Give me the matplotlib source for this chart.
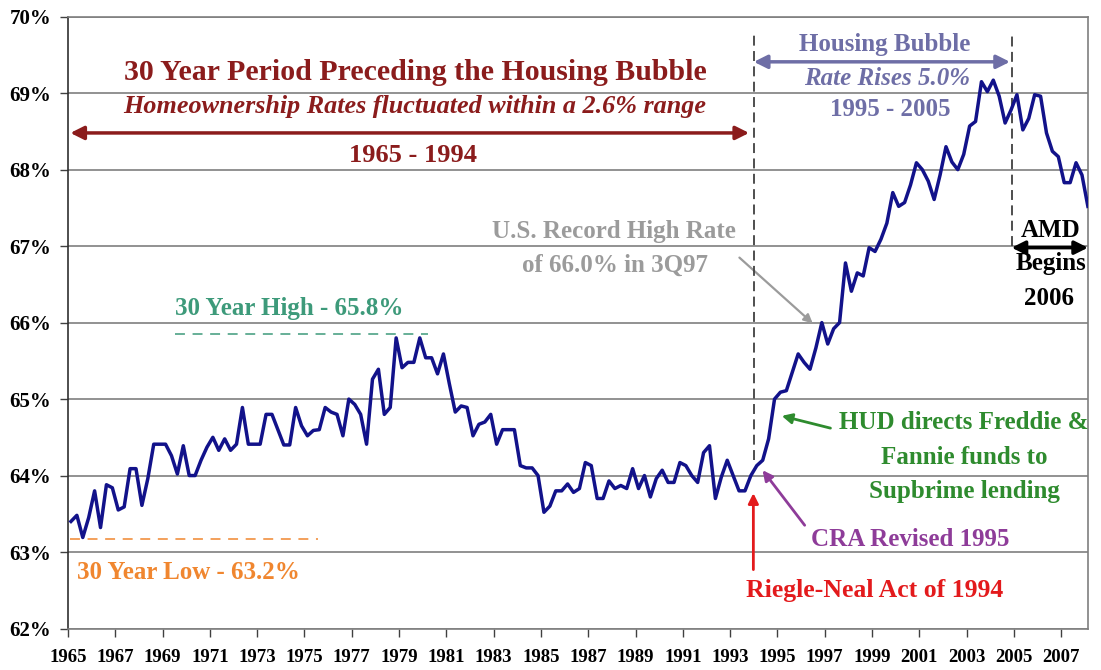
import numpy as np
import matplotlib
matplotlib.use('Agg')
import matplotlib.pyplot as plt

plt.rcParams['font.family'] = ['Liberation Serif', 'DejaVu Serif']

# US homeownership rate (%), quarterly from 1965 Q1
rate = [63.40, 63.48, 63.19, 63.45, 63.80, 63.32, 63.88, 63.84, 63.55, 63.59,
        64.09, 64.09, 63.61, 63.96, 64.41, 64.41, 64.41, 64.26, 64.02, 64.39,
        64.00, 64.00, 64.20, 64.37, 64.50, 64.33, 64.48, 64.33, 64.41, 64.89,
        64.41, 64.41, 64.41, 64.80, 64.80, 64.60, 64.40, 64.40, 64.89, 64.65,
        64.52, 64.59, 64.60, 64.89, 64.83, 64.80, 64.52, 65.00, 64.93, 64.80,
        64.41, 65.26, 65.39, 64.80, 64.89, 65.80, 65.41, 65.48, 65.48, 65.80,
        65.54, 65.54, 65.33, 65.59, 65.20, 64.83, 64.91, 64.89, 64.52, 64.67,
        64.70, 64.80, 64.41, 64.60, 64.60, 64.60, 64.13, 64.10, 64.10, 64.00,
        63.52, 63.60, 63.80, 63.80, 63.89, 63.78, 63.83, 64.17, 64.13, 63.70,
        63.70, 63.93, 63.83, 63.87, 63.83, 64.09, 63.83, 64.00, 63.72, 63.96,
        64.07, 63.91, 63.91, 64.17, 64.13, 64.00, 63.91, 64.30, 64.39, 63.70,
        63.98, 64.20, 64.00, 63.80, 63.80, 64.00, 64.13, 64.20, 64.48, 65.00,
        65.09, 65.11, 65.35, 65.59, 65.48, 65.39, 65.67, 66.00, 65.72, 65.92,
        66.00, 66.78, 66.41, 66.65, 66.61, 66.98, 66.93, 67.09, 67.30, 67.70,
        67.52, 67.57, 67.80, 68.09, 68.00, 67.85, 67.61, 67.93, 68.30, 68.10,
        68.00, 68.20, 68.57, 68.63, 69.15, 69.02, 69.17, 68.96, 68.61, 68.78,
        68.98, 68.52, 68.67, 68.98, 68.96, 68.48, 68.24, 68.17, 67.83, 67.83,
        68.09, 67.93, 67.52]

xtick_years = list(range(1965, 2008, 2))
ytick_vals = [62, 63, 64, 65, 66, 67, 68, 69, 70]
ytick_labels = ['%d%%' % v for v in ytick_vals]

# reference levels and events
low_30 = 63.17
high_30 = 65.85
bubble_start = 1994.0
bubble_end = 2004.92

# colours
navy = '#12128a'
dred = '#8b1c1c'
slate = '#6e6ea6'
grey_txt = '#9b9b9b'
green = '#2e8b2e'
purple = '#8e3c99'
red = '#e31a1c'
teal = '#3d9a7a'
orange = '#f0862f'

years = 1965 + (np.arange(len(rate)) + 0.5) / 4

fig = plt.figure(figsize=(11.01, 6.70), dpi=100)
ax = fig.add_axes([68 / 1101, 41.5 / 670, 1020 / 1101, 611.8 / 670])

ax.plot(years, rate, color=navy, lw=2.5, zorder=5)

ax.set_xlim(1965, 2008.13)
ax.set_ylim(62, 70)
ax.set_xticks(xtick_years)
ax.set_xticklabels([str(y) for y in xtick_years], fontsize=13.5, fontweight='bold')
ax.set_yticks(ytick_vals)
ax.set_yticklabels(ytick_labels, fontsize=15, fontweight='bold')
ax.tick_params(axis='both', direction='out', length=6, width=1, color='#404040')
ax.tick_params(axis='x', pad=9)
ax.tick_params(axis='y', pad=6)

ax.yaxis.grid(True, color='#7f7f7f', lw=1.2)
ax.set_axisbelow(True)
for side in ['top', 'right', 'bottom']:
    ax.spines[side].set_color('#7f7f7f')
    ax.spines[side].set_linewidth(1.2)
ax.spines['left'].set_color('#303030')
ax.spines['left'].set_linewidth(1.2)

# vertical dashed markers for the bubble period
ax.plot([bubble_start, bubble_start], [64.2, 69.78], color='#404040', lw=1.3, ls=(0, (5.5, 3)), zorder=4)
ax.plot([bubble_end, bubble_end], [67.0, 69.78], color='#404040', lw=1.3, ls=(0, (5.5, 3)), zorder=4)

# 30 year period block
ax.text(1979.7, 69.27, '30 Year Period Preceding the Housing Bubble', color=dred,
        fontsize=21.5, fontweight='bold', ha='center', va='center')
ax.text(1979.65, 68.83, 'Homeownership Rates fluctuated within a 2.6% range', color=dred,
        fontsize=18.8, fontweight='bold', style='italic', ha='center', va='center')
ax.annotate('', xy=(1965.1, 68.48), xytext=(1993.8, 68.48),
            arrowprops=dict(arrowstyle='<|-|>', color=dred, lw=2.5, mutation_scale=20,
                            shrinkA=0, shrinkB=0))
ax.text(1979.6, 68.18, '1965 - 1994', color=dred, fontsize=19, fontweight='bold',
        ha='center', va='center')

# housing bubble block
ax.text(1999.55, 69.63, 'Housing Bubble', color=slate, fontsize=18, fontweight='bold',
        ha='center', va='center')
ax.annotate('', xy=(bubble_start, 69.41), xytext=(2004.83, 69.41),
            arrowprops=dict(arrowstyle='<|-|>', color=slate, lw=2.5, mutation_scale=20,
                            shrinkA=0, shrinkB=0))
ax.text(1999.63, 69.19, 'Rate Rises 5.0%', color=slate, fontsize=18, fontweight='bold',
        style='italic', ha='center', va='center')
ax.text(1999.76, 68.78, '1995 - 2005', color=slate, fontsize=18, fontweight='bold',
        ha='center', va='center')

# record high
ax.text(1988.1, 67.19, 'U.S. Record High Rate', color=grey_txt, fontsize=18,
        fontweight='bold', ha='center', va='center')
ax.text(1988.15, 66.75, 'of 66.0% in 3Q97', color=grey_txt, fontsize=18,
        fontweight='bold', ha='center', va='center')
ax.annotate('', xy=(1996.49, 65.99), xytext=(1993.39, 66.85),
            arrowprops=dict(arrowstyle='-|>', color=grey_txt, lw=1.6, mutation_scale=13,
                            shrinkA=0, shrinkB=0))

# HUD
ax.text(2002.89, 64.69, 'HUD directs Freddie &', color=green, fontsize=18,
        fontweight='bold', ha='center', va='center', clip_on=False)
ax.text(2002.89, 64.23, 'Fannie funds to', color=green, fontsize=18,
        fontweight='bold', ha='center', va='center')
ax.text(2002.89, 63.79, 'Supbrime lending', color=green, fontsize=18,
        fontweight='bold', ha='center', va='center')
ax.annotate('', xy=(1995.18, 64.78), xytext=(1997.24, 64.62),
            arrowprops=dict(arrowstyle='-|>', color=green, lw=2, mutation_scale=15,
                            shrinkA=0, shrinkB=0))

# CRA
ax.text(2000.62, 63.16, 'CRA Revised 1995', color=purple, fontsize=18,
        fontweight='bold', ha='center', va='center')
ax.annotate('', xy=(1994.37, 64.07), xytext=(1996.15, 63.35),
            arrowprops=dict(arrowstyle='-|>', color=purple, lw=2, mutation_scale=15,
                            shrinkA=0, shrinkB=0))

# Riegle-Neal
ax.text(1999.12, 62.5, 'Riegle-Neal Act of 1994', color=red, fontsize=18.5,
        fontweight='bold', ha='center', va='center')
ax.annotate('', xy=(1993.98, 63.77), xytext=(1993.98, 62.77),
            arrowprops=dict(arrowstyle='-|>', color=red, lw=2, mutation_scale=15,
                            shrinkA=0, shrinkB=0))

# AMD
ax.text(2006.56, 67.2, 'AMD', color='black', fontsize=18, fontweight='bold',
        ha='center', va='center')
ax.annotate('', xy=(2004.9, 66.98), xytext=(2008.13, 66.98),
            arrowprops=dict(arrowstyle='<|-|>', color='black', lw=2.5, mutation_scale=20,
                            shrinkA=0, shrinkB=0), annotation_clip=False)
ax.text(2006.56, 66.77, 'Begins', color='black', fontsize=18, fontweight='bold',
        ha='center', va='center')
ax.text(2006.5, 66.32, '2006', color='black', fontsize=18, fontweight='bold',
        ha='center', va='center')

# 30 year high / low
ax.plot([1969.52, 1980.22], [high_30, high_30], color=teal, lw=1.1, ls=(0, (6.5, 5)), zorder=4)
ax.text(1969.52, 66.19, '30 Year High - 65.8%', color=teal, fontsize=18,
        fontweight='bold', ha='left', va='center')
ax.plot([1965.08, 1975.57], [low_30, low_30], color=orange, lw=1.1, ls=(0, (6.5, 5)), zorder=4)
ax.text(1965.37, 62.73, '30 Year Low - 63.2%', color=orange, fontsize=18,
        fontweight='bold', ha='left', va='center')

fig.savefig('out.png', dpi=100)
